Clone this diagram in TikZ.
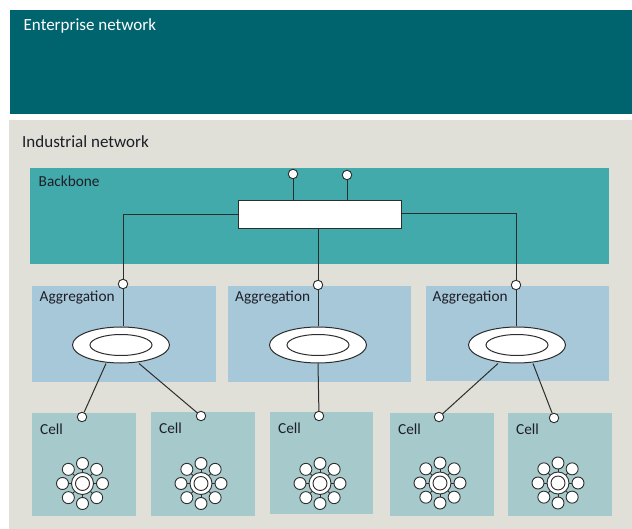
\documentclass[tikz,border=0pt]{standalone}
\usepackage{fontspec}
\setmainfont{Carlito}
\usetikzlibrary{shapes.geometric}

\definecolor{entcol}{RGB}{0,100,110}
\definecolor{indcol}{RGB}{224,224,216}
\definecolor{bbcol}{RGB}{66,170,170}
\definecolor{aggcol}{RGB}{166,200,216}
\definecolor{cellcol}{RGB}{166,202,204}
\definecolor{txtcol}{RGB}{30,30,40}
\definecolor{wirecol}{RGB}{45,45,45}

\tikzset{
  zone/.style={draw=none, inner sep=0pt, anchor=north west},
  title/.style={anchor=base west, inner sep=0pt, font=\fontsize{17}{20}\selectfont, text=txtcol},
  label/.style={anchor=base west, inner sep=0pt, font=\fontsize{15.3}{18}\selectfont, text=txtcol},
  port/.style={circle, draw=wirecol, fill=white, line width=0.9pt, minimum size=9.5pt, inner sep=0pt},
  wire/.style={draw=wirecol, line width=1pt},
  ringout/.style={ellipse, draw=wirecol, fill=white, line width=1pt, minimum width=97pt, minimum height=36pt, inner sep=0pt},
  ringin/.style={ellipse, draw=wirecol, fill=white, line width=1pt, minimum width=62pt, minimum height=21pt, inner sep=0pt},
  leaf/.style={circle, draw=wirecol, fill=white, line width=0.9pt, minimum size=12pt, inner sep=0pt},
  hubout/.style={circle, draw=wirecol, fill=white, line width=0.9pt, minimum size=22pt, inner sep=0pt},
  hubin/.style={circle, draw=wirecol, fill=white, line width=0.9pt, minimum size=14pt, inner sep=0pt},
}

% star-shaped cell cluster: hub with eight leaves
\newcommand{\cellstar}[3]{%
  \node[hubout] (#1hub) at (#2,#3) {};
  \node[hubin] at (#2,#3) {};
  \foreach \a in {0,45,...,315} {
    \node[leaf] (#1leaf\a) at ([shift={(\a:20pt)}]#2,#3) {};
    \draw[wire, line width=0.8pt] (#1hub) -- (#1leaf\a);
  }
}

\begin{document}
\begin{tikzpicture}[x=1pt,y=-1pt]
\useasboundingbox (0,0) rectangle (632,529);
\fill[white] (0,0) rectangle (632,529);

% enterprise zone
\fill[entcol] (9.5,10) rectangle (632,114);
\node[title, text=white] (enttitle) at (23.5,30.7) {Enterprise network};

% industrial zone
\fill[indcol] (9,120) rectangle (632,529);
\node[title] (indtitle) at (22,147.3) {Industrial network};

% backbone
\fill[bbcol] (30,168) rectangle (609,264);
\node[label] (bbtitle) at (38.5,187) {Backbone};
\node[draw=wirecol, line width=1pt, fill=white, minimum width=163pt, minimum height=28pt, inner sep=0pt] (switch) at (319.5,215) {};
\node[port] (up1) at (293,174) {};
\node[port] (up2) at (347,175) {};
\draw[wire] (up1) -- (up1 |- switch.north);
\draw[wire] (up2) -- (up2 |- switch.north);

% aggregation zones
\fill[aggcol] (32,286) rectangle (216,382);
\fill[aggcol] (228,286) rectangle (411,382);
\fill[aggcol] (426,286) rectangle (609,381);
\node[label] (agg1title) at (39.5,302) {Aggregation};
\node[label] (agg2title) at (235,302) {Aggregation};
\node[label] (agg3title) at (432.5,302) {Aggregation};

\node[port] (aggp1) at (123,284) {};
\node[port] (aggp2) at (318,285) {};
\node[port] (aggp3) at (516,285) {};

\draw[wire] (switch.west |- 0,215) -| (aggp1);
\draw[wire] (switch.south -| aggp2) -- (aggp2);
\draw[wire] (switch.east |- 0,214) -| (aggp3);

\node[ringout] (ring1) at (121,345) {};
\node[ringin] at (121,345) {};
\node[ringout] (ring2) at (318,345) {};
\node[ringin] at (318,345) {};
\node[ringout] (ring3) at (517,345) {};
\node[ringin] at (517,345) {};
\draw[wire] (aggp1) -- (ring1.north -| aggp1);
\draw[wire] (aggp2) -- (ring2.north);
\draw[wire] (aggp3) -- (ring3.north -| aggp3);

% cells
\fill[cellcol] (32,413) rectangle (136,516);
\fill[cellcol] (151,412) rectangle (255,516);
\fill[cellcol] (270,412) rectangle (373,514);
\fill[cellcol] (390,413) rectangle (494,516);
\fill[cellcol] (508,413) rectangle (612,516);
\node[label] (c1title) at (40,434) {Cell};
\node[label] (c2title) at (159,433) {Cell};
\node[label] (c3title) at (278,433) {Cell};
\node[label] (c4title) at (398,434) {Cell};
\node[label] (c5title) at (516,434) {Cell};

\node[port] (cp1) at (82,417) {};
\node[port] (cp2) at (201,416) {};
\node[port] (cp3) at (319,416) {};
\node[port] (cp4) at (439,417) {};
\node[port] (cp5) at (554,418) {};

\coordinate (r1a) at (106,363.5);
\coordinate (r1b) at (139,363.5);
\coordinate (r3a) at (498,363.5);
\coordinate (r3b) at (533,363.5);
\draw[wire] (r1a) -- (cp1);
\draw[wire] (r1b) -- (cp2);
\draw[wire] (ring2.south) -- (cp3);
\draw[wire] (r3a) -- (cp4);
\draw[wire] (r3b) -- (cp5);

\cellstar{s1}{82.5}{483.5}
\cellstar{s2}{201}{483.5}
\cellstar{s3}{320}{483.5}
\cellstar{s4}{440}{483}
\cellstar{s5}{558}{483}
\end{tikzpicture}
\end{document}
